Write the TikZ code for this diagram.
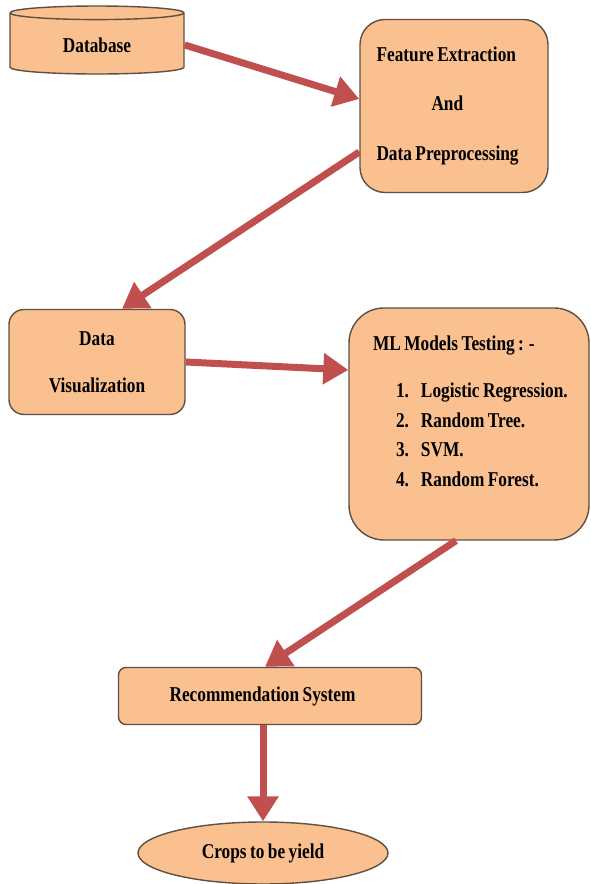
\documentclass[tikz,border=0pt]{standalone}
\usepackage{fontspec}
\setmainfont{Liberation Serif}[FakeStretch=0.82, WordSpace=0.8]
\usetikzlibrary{positioning,shapes.geometric,arrows.meta}
\definecolor{boxfill}{RGB}{250,192,144}
\definecolor{boxline}{RGB}{95,80,65}
\definecolor{flowred}{RGB}{192,80,77}

\begin{document}
\begin{tikzpicture}[
    box/.style={rectangle, draw=boxline, line width=0.8pt, fill=boxfill, font=\bfseries\fontsize{12}{14.4}\selectfont},
    dbbox/.style={cylinder, shape border rotate=90, aspect=0.17, draw=boxline, line width=0.8pt, fill=boxfill, minimum width=3.48cm, minimum height=1.36cm, font=\bfseries\fontsize{12}{14.4}\selectfont},
    endbox/.style={ellipse, draw=boxline, line width=0.8pt, fill=boxfill, minimum width=5cm, minimum height=1.24cm, font=\bfseries\fontsize{12}{14.4}\selectfont},
    flow/.style={draw=flowred, line width=0.14cm, -{Triangle[length=0.5cm, width=0.6cm]}},
]
\useasboundingbox (0,0) rectangle (11.8,17.68);

% Row 1 - data in
\node[dbbox] (db) at (1.94,16.78) {Database};

\node[box, rounded corners=0.5cm, minimum width=3.76cm, minimum height=3.46cm, text width=3.1cm, inner xsep=0.33cm, align=flush left] (fe) at (9.08,15.56) {
    Feature Extraction\\[13.5pt]
    \hspace*{1.1cm}And\\[13.5pt]
    Data Preprocessing
};

% Row 2 - middle boxes
\node[box, rounded corners=0.3cm, minimum width=3.52cm, minimum height=2.1cm, align=center] (dv) at (1.94,10.44) {
    Data\\[12.3pt]
    Visualization
};

\node[box, rounded corners=0.7cm, minimum width=4.8cm, minimum height=4.64cm, text width=4.1cm, inner xsep=0.35cm, align=flush left] (ml) at (9.38,9.2) {
    \hspace*{0.13cm}ML Models Testing : -\\[12.6pt]
    \hspace*{0.59cm}\makebox[0.5cm][l]{1.}Logistic Regression.\\[2.5pt]
    \hspace*{0.59cm}\makebox[0.5cm][l]{2.}Random Tree.\\[2.5pt]
    \hspace*{0.59cm}\makebox[0.5cm][l]{3.}SVM.\\[2.5pt]
    \hspace*{0.59cm}\makebox[0.5cm][l]{4.}Random Forest.\\[-4pt]
    \strut
};

% Row 3 - output
\node[box, rounded corners=0.15cm, minimum width=6.06cm, minimum height=1.14cm] (rec) at (5.4,3.76) {\hspace*{-0.3cm}Recommendation System};

\node[endbox] (crop) at (5.26,0.62) {Crops to be yield};

% Arrows
\draw[flow] (db.east) -- ([yshift=0.14cm]fe.west);
\draw[flow] ([yshift=-0.92cm]fe.west) -- ([xshift=0.5cm]dv.north);
\draw[flow] (dv.east) -- ([yshift=1.08cm]ml.west);
\draw[flow] ([xshift=-0.26cm]ml.south) -- ([xshift=-0.1cm]rec.north);
\draw[flow] (rec.south -| crop.north) -- (crop.north);

\end{tikzpicture}
\end{document}
